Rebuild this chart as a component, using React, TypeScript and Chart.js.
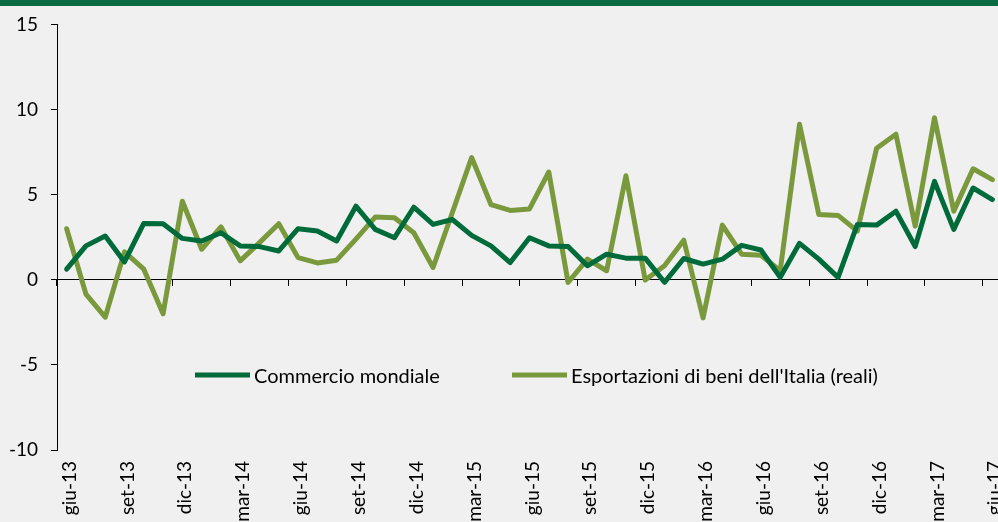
import React, { useEffect, useRef } from "react";
import { Chart, registerables } from "chart.js";

Chart.register(...registerables);

const months: string[] = [
  "giu-13", "lug-13", "ago-13", "set-13", "ott-13", "nov-13", "dic-13",
  "gen-14", "feb-14", "mar-14", "apr-14", "mag-14", "giu-14", "lug-14", "ago-14", "set-14", "ott-14", "nov-14", "dic-14",
  "gen-15", "feb-15", "mar-15", "apr-15", "mag-15", "giu-15", "lug-15", "ago-15", "set-15", "ott-15", "nov-15", "dic-15",
  "gen-16", "feb-16", "mar-16", "apr-16", "mag-16", "giu-16", "lug-16", "ago-16", "set-16", "ott-16", "nov-16", "dic-16",
  "gen-17", "feb-17", "mar-17", "apr-17", "mag-17", "giu-17",
];

const commercioMondiale: number[] = [
  0.62, 1.99, 2.57, 1.05, 3.31, 3.29, 2.43, 2.28, 2.76, 1.99, 1.95, 1.69, 3.0, 2.86, 2.28, 4.32, 2.96, 2.47, 4.26,
  3.25, 3.54, 2.61, 1.99, 1.01, 2.47, 1.99, 1.95, 0.82, 1.5, 1.27, 1.27, -0.15, 1.25, 0.92, 1.21, 2.02, 1.75, 0.14,
  2.14, 1.21, 0.14, 3.25, 3.21, 4.03, 1.95, 5.78, 2.96, 5.39, 4.71,
];

const esportazioniItalia: number[] = [
  3.0, -0.84, -2.2, 1.64, 0.62, -2.0, 4.61, 1.79, 3.11, 1.11, 2.18, 3.29, 1.3, 0.99, 1.15, 2.39, 3.68, 3.64, 2.76,
  0.72, 3.95, 7.18, 4.42, 4.07, 4.16, 6.33, -0.16, 1.21, 0.53, 6.11, -0.02, 0.82, 2.32, -2.24, 3.21, 1.5, 1.44, 0.53,
  9.13, 3.84, 3.78, 2.86, 7.73, 8.55, 3.15, 9.52, 4.03, 6.52, 5.88,
];

const seriesNames: string[] = ["Commercio mondiale", "Esportazioni di beni dell'Italia (reali)"];
const Y_MIN = -10;
const Y_MAX = 15;
const Y_STEP = 5;
const LABEL_EVERY = 3;

const DARK = "#006b3a";
const LIGHT = "#7a993c";
const FONT = "Lato, 'Open Sans', sans-serif";

const inlineLegend = {
  id: "inlineLegend",
  afterDatasetsDraw(chart: any) {
    const { ctx, chartArea, scales } = chart;
    const y = scales.y.getPixelForValue(-5.6);
    const items = [
      { text: seriesNames[0], color: DARK, x: chartArea.left + 138 },
      { text: seriesNames[1], color: LIGHT, x: chartArea.left + 455 },
    ];
    ctx.save();
    ctx.font = `20px ${FONT}`;
    ctx.textBaseline = "middle";
    ctx.textAlign = "left";
    for (const it of items) {
      ctx.strokeStyle = it.color;
      ctx.lineWidth = 5;
      ctx.lineCap = "butt";
      ctx.beginPath();
      ctx.moveTo(it.x, y);
      ctx.lineTo(it.x + 55, y);
      ctx.stroke();
      ctx.fillStyle = "#000";
      ctx.fillText(it.text, it.x + 59, y + 1);
    }
    ctx.restore();
  },
};

export default function App() {
  const ref = useRef<HTMLCanvasElement | null>(null);

  useEffect(() => {
    document.body.style.margin = "0";
    const canvas = ref.current;
    if (!canvas) return;
    const chart = new Chart(canvas, {
      type: "line",
      data: {
        labels: months,
        datasets: [
          {
            label: seriesNames[0],
            data: commercioMondiale,
            borderColor: DARK,
            backgroundColor: DARK,
            borderWidth: 5,
            pointRadius: 0,
            tension: 0,
            borderJoinStyle: "round",
            borderCapStyle: "round",
            xAxisID: "x",
            yAxisID: "y",
          },
          {
            label: seriesNames[1],
            data: esportazioniItalia,
            borderColor: LIGHT,
            backgroundColor: LIGHT,
            borderWidth: 5,
            pointRadius: 0,
            tension: 0,
            borderJoinStyle: "round",
            borderCapStyle: "round",
            xAxisID: "x",
            yAxisID: "y",
          },
        ],
      },
      options: {
        animation: false,
        responsive: false,
        maintainAspectRatio: false,
        layout: { padding: { top: 22, right: 38, bottom: 0, left: 0 } },
        plugins: {
          legend: { display: false },
          tooltip: { enabled: false },
        },
        scales: {
          x: {
            type: "category",
            position: "bottom",
            offset: true,
            grid: { display: false },
            border: { display: false },
            ticks: {
              autoSkip: false,
              minRotation: 90,
              maxRotation: 90,
              padding: 3,
              labelOffset: 3,
              color: "#000",
              font: { family: FONT, size: 19 },
              callback: (_v: any, i: number) => (i % LABEL_EVERY === 0 ? months[i] : ""),
            },
            afterFit: (scale: any) => {
              scale.height = 72;
            },
          },
          x2: {
            type: "category",
            axis: "x",
            position: { y: 0 },
            offset: true,
            grid: {
              display: true,
              offset: true,
              drawOnChartArea: false,
              drawTicks: true,
              tickLength: 6,
              lineWidth: 1,
              color: (c: any) => (c.index % LABEL_EVERY === 0 ? "#000" : "rgba(0,0,0,0)"),
            },
            border: { display: true, color: "#000", width: 1 },
            ticks: { display: false, autoSkip: false },
          },
          y: {
            type: "linear",
            position: "left",
            min: Y_MIN,
            max: Y_MAX,
            ticks: {
              stepSize: Y_STEP,
              padding: 13,
              color: "#000",
              font: { family: FONT, size: 19 },
            },
            grid: {
              display: true,
              drawOnChartArea: false,
              drawTicks: true,
              tickLength: 6,
              color: "#000",
            },
            border: { display: true, color: "#000", width: 1 },
            afterFit: (scale: any) => {
              scale.width = 57;
            },
          },
        },
      } as any,
      plugins: [inlineLegend],
    });
    return () => chart.destroy();
  }, []);

  return (
    <div
      style={{
        position: "relative",
        width: 998,
        height: 522,
        overflow: "hidden",
        background: "#f0f0f0",
      }}
    >
      <div style={{ position: "absolute", left: 0, top: 0, width: 998, height: 6, background: "#096c42" }} />
      <canvas ref={ref} width={1040} height={522} style={{ position: "absolute", left: 0, top: 0, width: 1040, height: 522 }} />
    </div>
  );
}
